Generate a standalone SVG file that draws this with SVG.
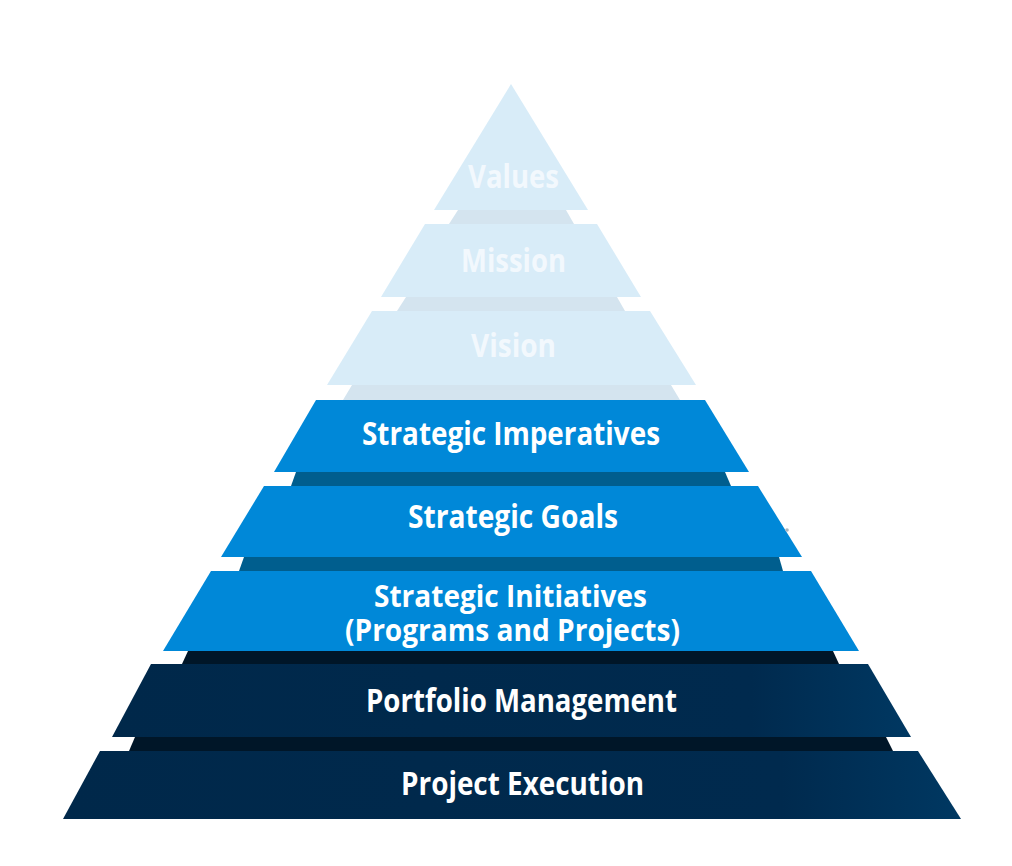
<svg xmlns="http://www.w3.org/2000/svg" width="1012" height="866" viewBox="0 0 1012 866">
<defs>
<linearGradient id="navy" x1="0" y1="0" x2="1" y2="0">
<stop offset="0" stop-color="#00284a"/>
<stop offset="0.8" stop-color="#002a4e"/>
<stop offset="1" stop-color="#003862"/>
</linearGradient>
</defs>
<style>
.light{fill:#d8ecf8}
.lightgap{fill:#d4e4ef}
.blue{fill:#0088d8}
.bluegap{fill:#005e8e}
.navy{fill:url(#navy)}
.navygap{fill:#001628}
text{font-family:"Open Sans","Noto Sans","Liberation Sans",sans-serif;font-weight:700;font-size:32px;text-anchor:middle;fill:#ffffff}
.lt{fill:#f2f8fd}
.sm{font-size:30px}
</style>
<rect width="1012" height="866" fill="#ffffff"/>
<g id="gaps">
<polygon class="lightgap" points="458,210 566,210 574,224 449,224"/>
<polygon class="lightgap" points="406,297 617,297 625,311 397,311"/>
<polygon class="lightgap" points="352,385 671,385 680,400 343,400"/>
<polygon class="bluegap" points="296,472 725,472 731,486 291,486"/>
<polygon class="bluegap" points="244,557 779,557 783,571 239,571"/>
<polygon class="navygap" points="188,651 833,651 839,664 182,664"/>
<polygon class="navygap" points="135,737 886,737 893,751 129,751"/>
</g>
<g id="values">
<polygon class="light" points="511,84 588,210 434,210"/>
<text class="lt" x="513.5" y="188" textLength="91" lengthAdjust="spacingAndGlyphs">Values</text>
</g>
<g id="mission">
<polygon class="light" points="425,224 597,224 641,297 381,297"/>
<text class="lt" x="513.5" y="272" textLength="105" lengthAdjust="spacingAndGlyphs">Mission</text>
</g>
<g id="vision">
<polygon class="light" points="372,311 650,311 696,385 327,385"/>
<text class="lt" x="513.5" y="357" textLength="85" lengthAdjust="spacingAndGlyphs">Vision</text>
</g>
<g id="strategic-imperatives">
<polygon class="blue" points="316,400 705,400 749,472 274,472"/>
<text x="511" y="445" textLength="298" lengthAdjust="spacingAndGlyphs">Strategic Imperatives</text>
</g>
<g id="strategic-goals">
<polygon class="blue" points="264,486 758,486 802,557 221,557"/>
<text x="513" y="528" textLength="210" lengthAdjust="spacingAndGlyphs">Strategic Goals</text>
</g>
<g id="strategic-initiatives">
<polygon class="blue" points="211,571 811,571 859,651 163,651"/>
<text class="sm" x="510.5" y="607" textLength="273" lengthAdjust="spacingAndGlyphs">Strategic Initiatives</text>
<text class="sm" x="512.5" y="641" textLength="335" lengthAdjust="spacingAndGlyphs">(Programs and Projects)</text>
</g>
<g id="portfolio-management">
<polygon class="navy" points="151,664 868,664 911,737 112,737"/>
<text x="521.5" y="712" textLength="311" lengthAdjust="spacingAndGlyphs">Portfolio Management</text>
</g>
<g id="project-execution">
<polygon class="navy" points="100,751 918,751 961,819 63,819"/>
<text x="522.5" y="795" textLength="243" lengthAdjust="spacingAndGlyphs">Project Execution</text>
</g>
<g id="connectors"></g>
<circle cx="787" cy="530" r="1.8" fill="#a9b4bd"/>
</svg>
